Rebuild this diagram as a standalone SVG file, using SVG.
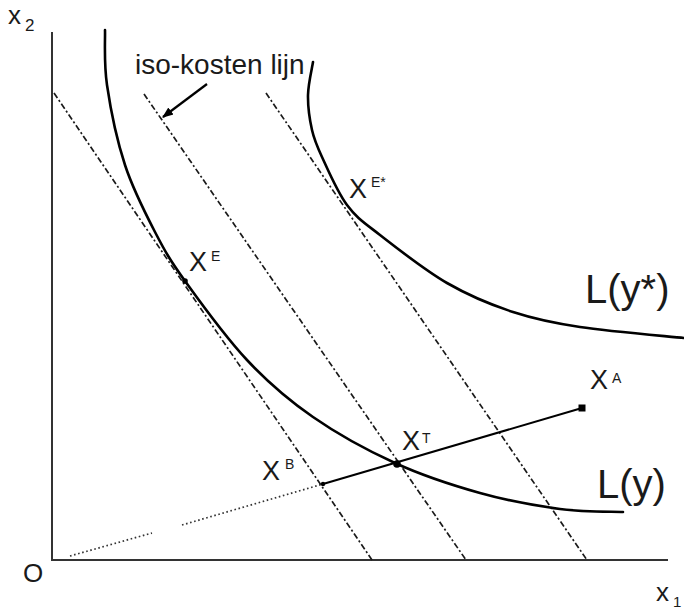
<svg xmlns="http://www.w3.org/2000/svg" width="684" height="609" viewBox="0 0 684 609">
<style>
  .axis { stroke: #333; stroke-width: 2; fill: none; }
  .curve { stroke: #000; stroke-width: 2.6; fill: none; stroke-linecap: round; stroke-linejoin: round; }
  .iso { stroke: #1a1a1a; stroke-width: 1.7; fill: none; stroke-dasharray: 6 2.5 2 2.5; }
  .ray { stroke: #000; stroke-width: 2; fill: none; }
  .dots { stroke: #333; stroke-width: 1.7; fill: none; stroke-dasharray: 1.6 2.6; }
  .lbl { font-family: "Liberation Sans", Arial, sans-serif; fill: #1a1a1a; }
  .big { font-size: 27px; }
  .sup { font-size: 14px; }
  .curvelbl { font-size: 40px; }
</style>
<defs>
  <marker id="ah" viewBox="0 0 10 10" refX="9" refY="5" markerWidth="11" markerHeight="11" markerUnits="userSpaceOnUse" orient="auto">
    <path d="M0,1 L10,5 L0,9 Z" fill="#000"/>
  </marker>
</defs>
<rect width="684" height="609" fill="#fff"/>

<g id="axes">
  <path class="axis" d="M52,32 L52,560 L668,560"/>
  <text class="lbl" x="8" y="24" font-size="26">x</text>
  <text class="lbl" x="25" y="31" font-size="17">2</text>
  <text class="lbl" x="656" y="601" font-size="26">x</text>
  <text class="lbl" x="673" y="607" font-size="15">1</text>
  <text class="lbl" x="23" y="582" font-size="26">O</text>
</g>

<g id="connectors">
  <line class="iso" x1="54" y1="93" x2="372" y2="560"/>
  <line class="iso" x1="144" y1="94" x2="466" y2="560"/>
  <line class="iso" x1="266" y1="93" x2="587" y2="560"/>
  <line class="dots" x1="70" y1="556" x2="152" y2="533"/>
  <line class="dots" x1="182" y1="525" x2="323" y2="484"/>
  <line class="ray" x1="323" y1="484" x2="582" y2="408"/>
  <line stroke="#000" stroke-width="2.2" x1="207" y1="84" x2="163" y2="117" marker-end="url(#ah)"/>
</g>

<g id="iso-label">
  <text class="lbl" x="135" y="74" style="font-size:28px">iso-kosten lijn</text>
</g>

<g id="Ly">
  <path class="curve" d="M105,30 C105.3,39.2 103.7,62.5 107,85 C110.3,107.5 117,140.5 125,165 C133,189.5 145,212.7 155,232 C165,251.3 169.7,259.7 185,281 C200.3,302.3 225.7,337.3 247,360 C268.3,382.7 288.3,399.8 313,417 C337.7,434.2 367.2,450.3 395,463 C422.8,475.7 452.5,485.3 480,493 C507.5,500.7 536.2,505.8 560,509 C583.8,512.2 612.5,511.5 623,512"/>
  <text class="lbl curvelbl" x="597" y="498">L(y)</text>
</g>

<g id="Lystar">
  <path class="curve" d="M313,62 C312.2,67.5 308.2,83.7 308,95 C307.8,106.3 309.7,119.7 312,130 C314.3,140.3 316.2,144.5 322,157 C327.8,169.5 337.3,192 347,205 C356.7,218 363.3,222 380,235 C396.7,248 424.8,270.2 447,283 C469.2,295.8 490.8,304.7 513,312 C535.2,319.3 551.5,322.7 580,327 C608.5,331.3 666.7,336.2 684,338"/>
  <text class="lbl curvelbl" x="585" y="303">L(y*)</text>
</g>

<g id="XE">
  <circle cx="185" cy="281" r="2.8" fill="#000"/>
  <text class="lbl big" x="189" y="271">X</text>
  <text class="lbl sup" x="211" y="261">E</text>
</g>

<g id="XEstar">
  <text class="lbl big" x="349" y="198">X</text>
  <text class="lbl sup" x="371" y="187">E*</text>
</g>

<g id="XT">
  <circle cx="397" cy="464" r="3.8" fill="#000"/>
  <text class="lbl big" x="402" y="450">X</text>
  <text class="lbl sup" x="422" y="443">T</text>
</g>

<g id="XB">
  <circle cx="323" cy="484" r="2.2" fill="#000"/>
  <text class="lbl big" x="262" y="480">X</text>
  <text class="lbl sup" x="285" y="469">B</text>
</g>

<g id="XA">
  <rect x="578.5" y="404.5" width="7" height="7" fill="#000"/>
  <text class="lbl big" x="590" y="389">X</text>
  <text class="lbl sup" x="612" y="383">A</text>
</g>
</svg>
